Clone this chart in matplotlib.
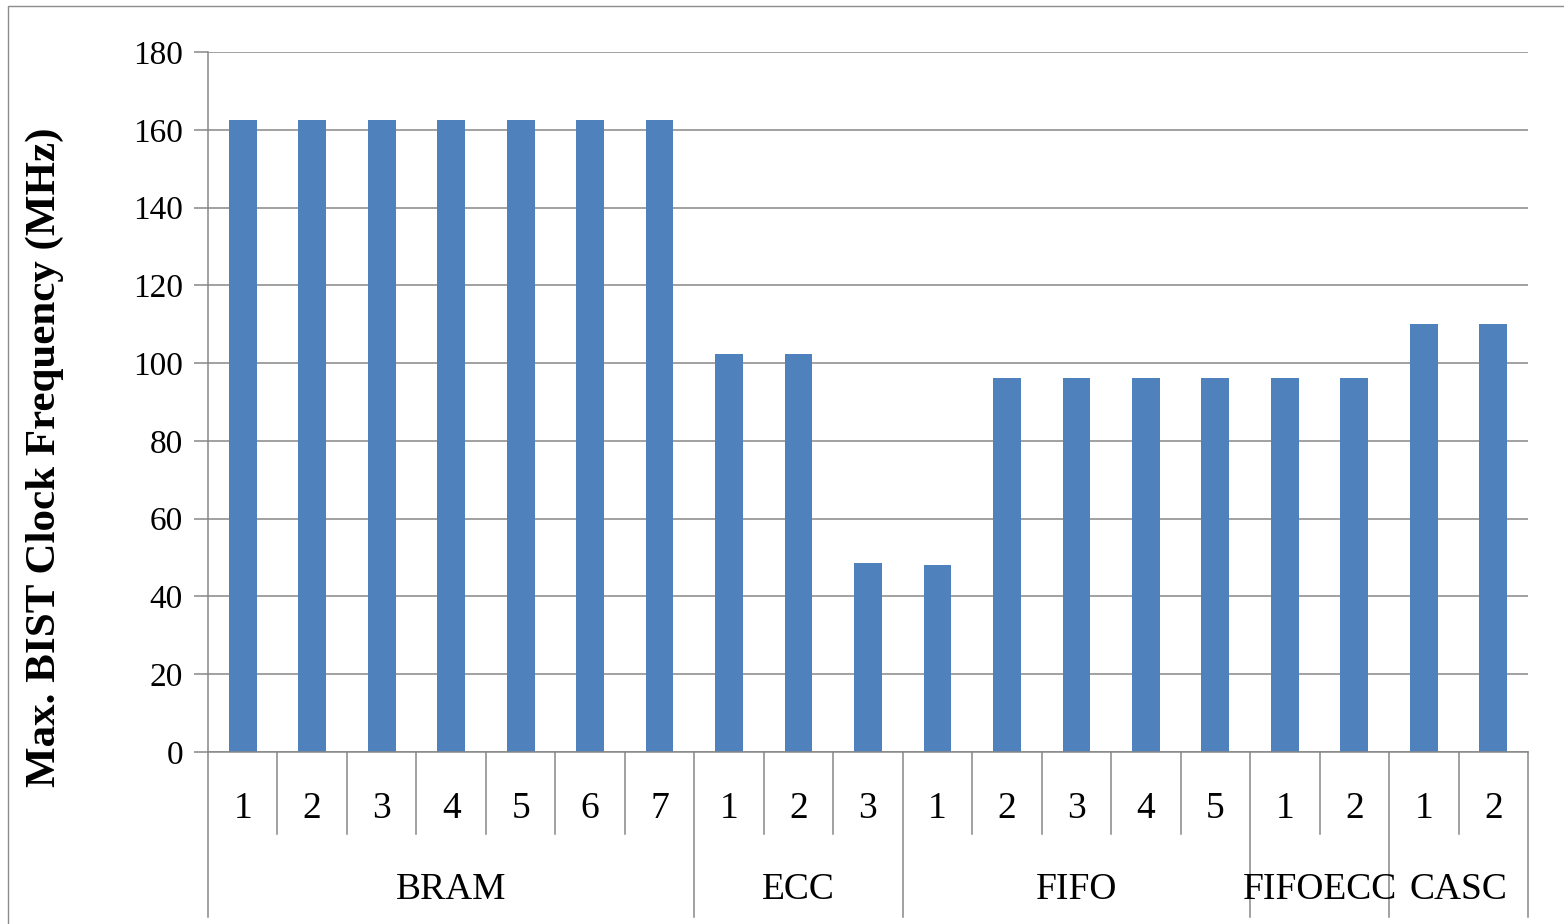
import matplotlib.pyplot as plt
import matplotlib.transforms as mtransforms
from matplotlib.patches import Rectangle

# 数据
groups = ['BRAM', 'ECC', 'FIFO', 'FIFOECC', 'CASC']
group_sizes = [7, 3, 5, 2, 2]
freq_values = [162.5, 162.5, 162.5, 162.5, 162.5, 162.5, 162.5,
               102.4, 102.4, 48.6,
               48.1, 96.2, 96.2, 96.2, 96.2,
               96.2, 96.2,
               110.1, 110.1]
y_ticks = [0, 20, 40, 60, 80, 100, 120, 140, 160, 180]

plt.rcParams['font.family'] = ['Liberation Serif', 'DejaVu Serif']

W, H = 1564, 924
fig = plt.figure(figsize=(W / 100, H / 100), dpi=100)
ax = fig.add_axes([208 / W, 1 - 752 / H, (1528 - 208) / W, (752 - 52) / H])

grid_col = '#878787'
bar_col = '#4F81BD'

n = len(freq_values)
xs = list(range(n))
ax.bar(xs, freq_values, width=0.4, color=bar_col, zorder=3)

ax.set_xlim(-0.5, n - 0.5)
ax.set_ylim(0, 180)
ax.set_yticks(y_ticks)
ax.set_yticklabels([str(t) for t in y_ticks], fontsize=24)
ax.tick_params(axis='y', length=10, width=1.1, color=grid_col, pad=8)
ax.set_xticks([])
ax.yaxis.grid(True, color=grid_col, linewidth=1.1, zorder=0)
for side in ['top', 'right', 'bottom']:
    ax.spines[side].set_visible(False)
ax.spines['left'].set_color(grid_col)
ax.spines['left'].set_linewidth(1.1)
ax.axhline(0, color=grid_col, linewidth=1.1, zorder=4, clip_on=False)

# y轴标题（位置比坐标轴中心偏下）
fig.text(45 / W, 1 - 457 / H, 'Max. BIST Clock Frequency (MHz)', rotation=90,
         ha='center', va='center', fontsize=31, fontweight='bold')

# 底部两级分类标签
trans = mtransforms.blended_transform_factory(ax.transData, ax.transAxes)
px = 1.0 / (752 - 52)
inner_bot = -(834 - 752) * px
outer_bot = -(917 - 752) * px
num_y = -(809 - 752) * px
grp_y = -(890 - 752) * px

start = 0
bounds = [0]
for g, size in zip(groups, group_sizes):
    for k in range(size):
        i = start + k
        ax.text(i, num_y, str(k + 1), transform=trans, ha='center', va='center', fontsize=27)
        if k > 0:
            ax.plot([i - 0.5, i - 0.5], [0, inner_bot], transform=trans, color=grid_col,
                    linewidth=1.1, clip_on=False)
    ax.text(start + (size - 1) / 2, grp_y, g, transform=trans, ha='center', va='center', fontsize=27)
    start += size
    bounds.append(start)

for b in bounds:
    ax.plot([b - 0.5, b - 0.5], [0, outer_bot], transform=trans, color=grid_col,
            linewidth=1.1, clip_on=False)

# 外边框
fig.patches.append(Rectangle((8 / W, -0.1), 1.2, 1 - 6 / H + 0.1, transform=fig.transFigure,
                             fill=False, edgecolor='#8c8c8c', linewidth=1.0))

fig.savefig('out.png', dpi=100)
